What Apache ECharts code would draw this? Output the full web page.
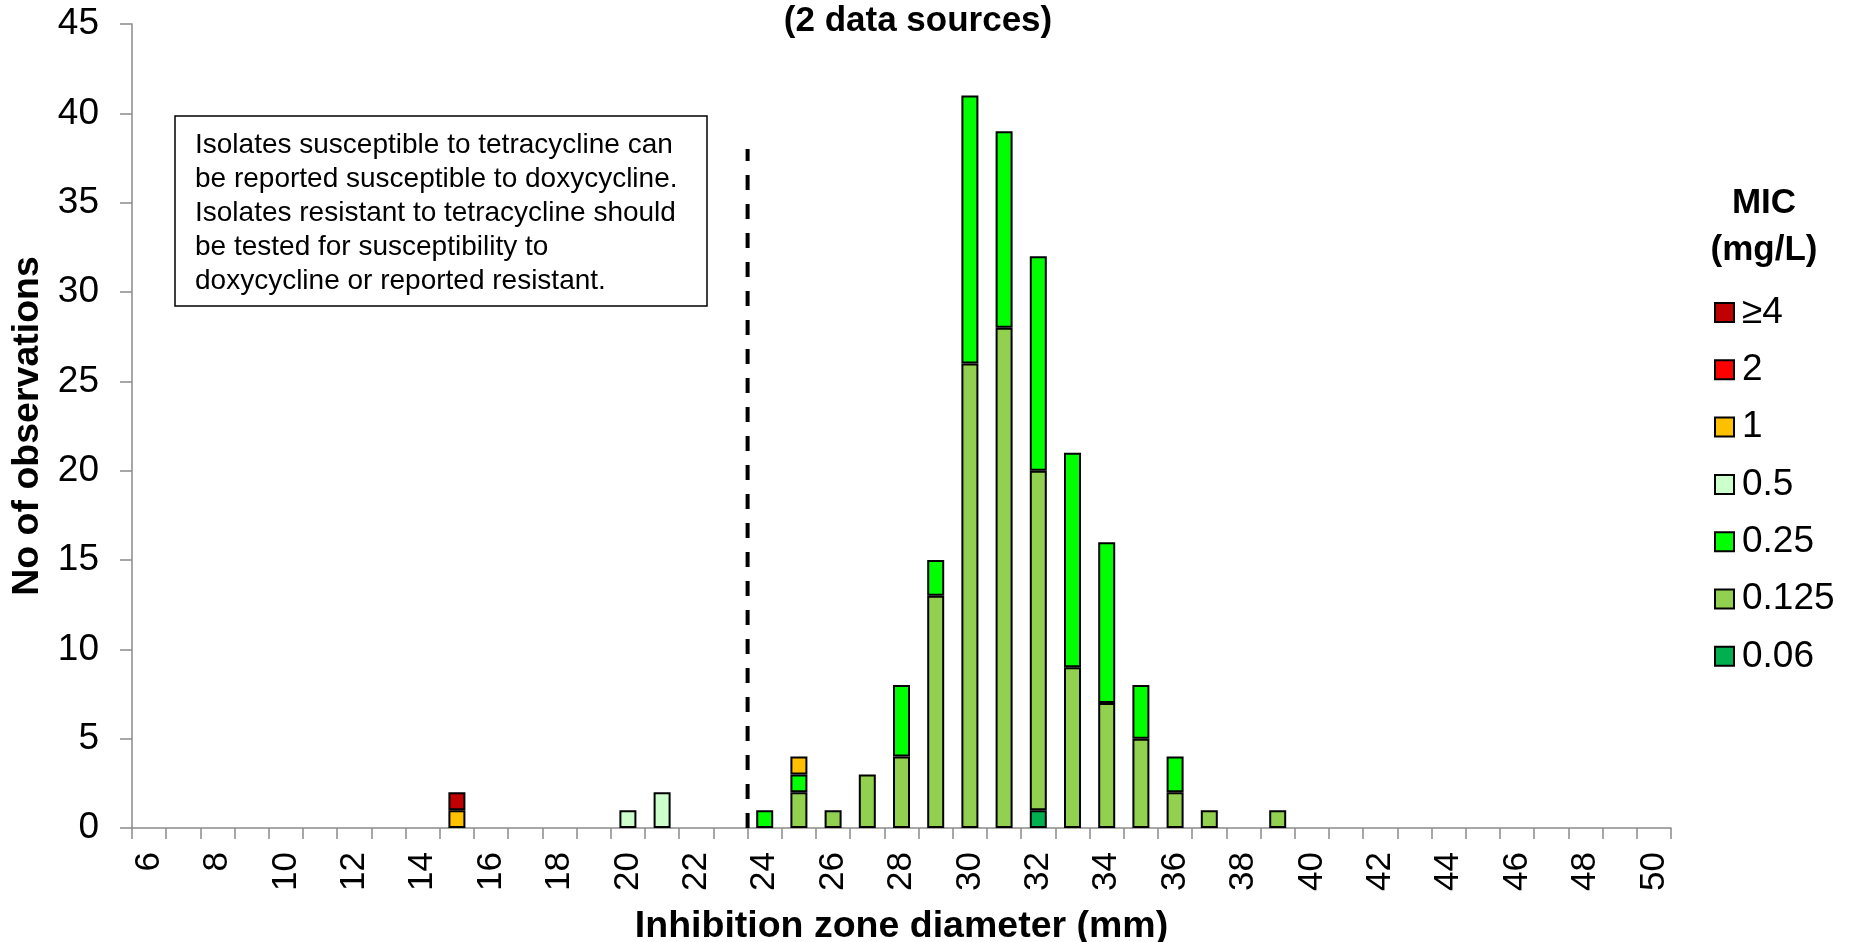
<!DOCTYPE html>
<html><head><meta charset="utf-8">
<script src="https://cdn.jsdelivr.net/npm/echarts@6/dist/echarts.min.js"></script>
<style>html,body{margin:0;padding:0;background:#fff}#c{width:1852px;height:942px}</style>
</head><body><div id="c"></div>
<script>
// Inhibition zone diameters (mm), categories 6..50
const diameters = [6,7,8,9,10,11,12,13,14,15,16,17,18,19,20,21,22,23,24,25,26,27,28,29,30,31,32,33,34,35,36,37,38,39,40,41,42,43,44,45,46,47,48,49,50];
// counts per MIC (mg/L) class, one value per diameter
const mic4    = [0,0,0,0,0, 0,0,0,0,1, 0,0,0,0,0, 0,0,0,0,0, 0,0,0,0,0, 0,0,0,0,0, 0,0,0,0,0, 0,0,0,0,0, 0,0,0,0,0];
const mic2    = [0,0,0,0,0, 0,0,0,0,0, 0,0,0,0,0, 0,0,0,0,0, 0,0,0,0,0, 0,0,0,0,0, 0,0,0,0,0, 0,0,0,0,0, 0,0,0,0,0];
const mic1    = [0,0,0,0,0, 0,0,0,0,1, 0,0,0,0,0, 0,0,0,0,1, 0,0,0,0,0, 0,0,0,0,0, 0,0,0,0,0, 0,0,0,0,0, 0,0,0,0,0];
const mic05   = [0,0,0,0,0, 0,0,0,0,0, 0,0,0,0,1, 2,0,0,0,0, 0,0,0,0,0, 0,0,0,0,0, 0,0,0,0,0, 0,0,0,0,0, 0,0,0,0,0];
const mic025  = [0,0,0,0,0, 0,0,0,0,0, 0,0,0,0,0, 0,0,0,1,1, 0,0,4,2,15, 11,12,12,9,3, 2,0,0,0,0, 0,0,0,0,0, 0,0,0,0,0];
const mic0125 = [0,0,0,0,0, 0,0,0,0,0, 0,0,0,0,0, 0,0,0,0,2, 1,3,4,13,26, 28,19,9,7,5, 2,1,0,1,0, 0,0,0,0,0, 0,0,0,0,0];
const mic006  = [0,0,0,0,0, 0,0,0,0,0, 0,0,0,0,0, 0,0,0,0,0, 0,0,0,0,0, 0,1,0,0,0, 0,0,0,0,0, 0,0,0,0,0, 0,0,0,0,0];
const legendOrder = ['≥4','2','1','0.5','0.25','0.125','0.06'];
// breakpoint line: between 23 and 24 mm, drawn up to 38 observations
const breakpointX = [23.5, 23.5];
const breakpointY = [0, 38];
const yTicks = {min: 0, max: 45, interval: 5};
const noteLines = [
  'Isolates susceptible to tetracycline can',
  'be reported susceptible to doxycycline.',
  'Isolates resistant to tetracycline should',
  'be tested for susceptibility to',
  'doxycycline or reported resistant.'
];

const FONT = "'Liberation Sans', Arial, sans-serif";
const seriesDefs = [
  {name:'0.06',  data:mic006,  color:'#00B050'},
  {name:'0.125', data:mic0125, color:'#92D050'},
  {name:'0.25',  data:mic025,  color:'#00FF00'},
  {name:'0.5',   data:mic05,   color:'#CCFFCC'},
  {name:'1',     data:mic1,    color:'#FFC000'},
  {name:'2',     data:mic2,    color:'#FF0000'},
  {name:'≥4',    data:mic4,    color:'#C00000'}
];
const axisGrey = '#8a8a8a';

const chart = echarts.init(document.getElementById('c'), null, {renderer:'canvas'});
const series = seriesDefs.map(s => ({
  name: s.name, type: 'bar', stack: 'mic', barWidth: 17,
  data: s.data.map(v => v === 0 ? null : v),
  itemStyle: {color: s.color, borderColor: '#000', borderWidth: 2},
  emphasis: {disabled: true}
}));
series.push({
  name: 'breakpoint', type: 'line', xAxisIndex: 1, yAxisIndex: 0,
  data: breakpointX.map((x, i) => [x, breakpointY[i]]),
  symbol: 'none', silent: true,
  lineStyle: {color: '#000', width: 4, type: [15, 14]}
});

chart.setOption({
  animation: false,
  textStyle: {fontFamily: FONT},
  grid: {left: 132, right: 181, top: 24, bottom: 114, containLabel: false, outerBoundsMode: 'none'},
  legend: {
    data: legendOrder, orient: 'vertical', left: 1709, top: 289,
    itemWidth: 19, itemHeight: 19, itemGap: 20.3, icon: 'rect',
    textStyle: {fontFamily: FONT, fontSize: 37, color: '#000', lineHeight: 20, padding: [0,0,0,3]},
    selectedMode: false
  },
  xAxis: [{
    type: 'category', data: diameters.map(String), boundaryGap: true,
    axisLine: {lineStyle: {color: axisGrey, width: 1.5}},
    axisTick: {show: true, interval: 0, alignWithLabel: false, length: 11, lineStyle: {color: axisGrey, width: 1.5}},
    axisLabel: {interval: 1, rotate: 90, fontSize: 35, color: '#000', margin: 24, fontFamily: FONT},
    name: 'Inhibition zone diameter (mm)', nameLocation: 'middle', nameGap: 80,
    nameTextStyle: {fontSize: 37.5, fontWeight: 'bold', color: '#000', fontFamily: FONT}
  }, {
    type: 'value', min: 5.5, max: 50.5, show: false
  }],
  yAxis: [{
    type: 'value', min: yTicks.min, max: yTicks.max, interval: yTicks.interval,
    axisLine: {show: true, lineStyle: {color: axisGrey, width: 1.5}},
    axisTick: {show: true, length: 12, lineStyle: {color: axisGrey, width: 1.5}},
    splitLine: {show: false},
    axisLabel: {fontSize: 37, color: '#000', margin: 33, fontFamily: FONT},
    name: 'No of observations', nameLocation: 'middle', nameGap: 84,
    nameTextStyle: {fontSize: 37.5, fontWeight: 'bold', color: '#000', fontFamily: FONT}
  }],
  graphic: [
    {type: 'text', x: 918, y: 21, style: {text: '(2 data sources)', fontSize: 35, fontWeight: 'bold', fontFamily: FONT, fill: '#000', align: 'center', verticalAlign: 'middle'}},
    {type: 'text', x: 1764, y: 203, style: {text: 'MIC', fontSize: 35, fontWeight: 'bold', fontFamily: FONT, fill: '#000', align: 'center', verticalAlign: 'middle'}},
    {type: 'text', x: 1764, y: 250, style: {text: '(mg/L)', fontSize: 35, fontWeight: 'bold', fontFamily: FONT, fill: '#000', align: 'center', verticalAlign: 'middle'}},
    {type: 'rect', shape: {x: 175, y: 116, width: 532, height: 190}, style: {fill: '#fff', stroke: '#000', lineWidth: 1.5}, z: 10},
    {type: 'text', x: 195, y: 128, z: 11, style: {text: noteLines.join('\n'), fontSize: 28, lineHeight: 34, fontFamily: FONT, fill: '#000', align: 'left', verticalAlign: 'top'}}
  ],
  series: series
});
</script></body></html>
